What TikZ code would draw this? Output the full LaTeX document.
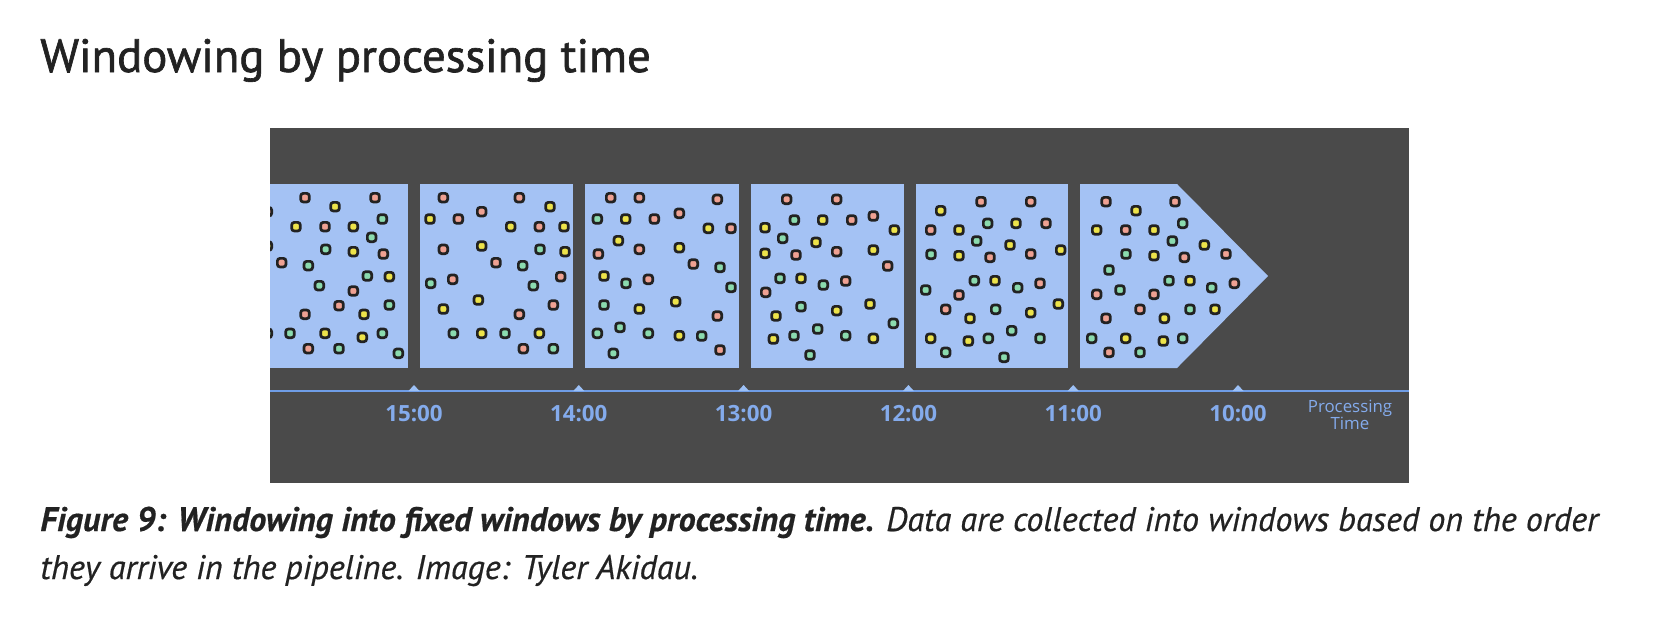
\documentclass[tikz,border=0pt]{standalone}
\usepackage{fontspec}
\setmainfont{PT Sans}
\newfontfamily\titlefont[FakeBold=1.4]{PT Sans}
\newfontfamily\capfont[FakeBold=0.5]{PT Sans}
\newfontfamily\axisfont{Open Sans}

\definecolor{ink}{HTML}{222222}
\definecolor{bgdark}{HTML}{4A4A4A}
\definecolor{winblue}{HTML}{A4C2F4}
\definecolor{axisblue}{HTML}{6F9DE6}
\definecolor{lblblue}{HTML}{84ABEC}
\definecolor{tickblue}{HTML}{9CC0F6}
\definecolor{dotline}{HTML}{222222}
\definecolor{dotpink}{HTML}{EFA192}
\definecolor{dotyellow}{HTML}{EDE34A}
\definecolor{dotgreen}{HTML}{8BDBAE}

\begin{document}
\begin{tikzpicture}[x=0.02cm, y=-0.02cm, every node/.style={inner sep=0pt},
	dot/.style={draw=dotline, line width=1.55pt, rounded corners=1.5pt, minimum size=4.9pt, inner sep=0pt},
	pk/.style={fill=dotpink}, yl/.style={fill=dotyellow}, gn/.style={fill=dotgreen},
	timelbl/.style={font=\axisfont\bfseries\fontsize{12.7}{13}\selectfont, text=lblblue}]
	\useasboundingbox (0,0) rectangle (1672,636);
	\node[anchor=base west, font=\titlefont\fontsize{26.6}{30}\selectfont, text=ink] (title) at (40,72) {Windowing by processing time};
	\fill[bgdark] (270,128) rectangle (1409,483);
	\begin{scope}
		\clip (270,128) rectangle (1409,483);
		\foreach \l/\r in {270/408, 420/573, 585/739, 751/904, 916/1068} {\fill[winblue] (\l,184) rectangle (\r,368);}
		\fill[winblue] (1080,184) -- (1177,184) -- (1268,276) -- (1177,368) -- (1080,368) -- cycle;
		% windows 1-3
		\begin{scope}[shift={(260,120)}, scale=1/3]
			\foreach \x/\y/\c [count=\i] in {22/275/pk, 135/233/pk, 345/233/pk, 225/260/yl, 367/297/gn, 108/320/yl, 195/320/pk, 280/320/yl, 335/352/gn, 22/378/yl, 197/388/gn, 280/395/yl, 370/402/pk, 65/428/pk, 145/437/gn, 322/468/gn, 388/470/yl, 178/497/gn, 280/513/pk, 237/557/pk, 388/555/gn, 135/583/pk, 312/583/yl, 22/640/gn, 90/640/gn, 195/640/yl, 307/652/yl, 367/640/gn, 145/686/pk, 237/686/gn, 415/700/gn,
				550/233/pk, 778/233/pk, 870/260/yl, 665/275/pk, 510/297/yl, 595/297/pk, 752/320/yl, 838/320/pk, 912/320/yl, 550/388/pk, 665/378/yl, 840/388/gn, 915/395/yl, 708/428/pk, 788/437/gn, 902/470/pk, 512/490/gn, 578/478/pk, 820/497/gn, 655/540/yl, 550/567/yl, 880/555/pk, 778/583/pk, 580/640/gn, 665/640/yl, 735/640/gn, 838/640/yl, 790/686/pk, 880/686/gn,
				1052/233/pk, 1138/233/pk, 1372/238/pk, 1258/280/pk, 1012/297/gn, 1097/297/yl, 1183/297/pk, 1345/325/yl, 1413/325/pk, 1075/362/yl, 1015/402/pk, 1138/388/pk, 1258/383/yl, 1300/432/pk, 1380/442/gn, 1032/468/yl, 1098/490/gn, 1165/478/pk, 1413/502/gn, 1247/545/yl, 1032/555/gn, 1138/567/yl, 1372/588/pk, 1080/622/gn, 1012/640/gn, 1165/640/gn, 1258/647/yl, 1325/648/gn, 1060/700/gn, 1380/690/pk}
			{\node[dot, \c] (a\i) at (\x,\y) {};}
		\end{scope}
		% windows 4-6
		\begin{scope}[shift={(740,120)}, scale=1/3]
			\foreach \x/\y/\c [count=\i] in {140/238/pk, 290/238/pk, 163/300/gn, 248/300/yl, 335/300/pk, 400/288/pk, 75/323/yl, 463/330/yl, 128/355/gn, 228/367/yl, 75/400/yl, 168/405/pk, 290/395/pk, 400/390/yl, 443/438/pk, 120/475/gn, 183/475/yl, 250/495/gn, 317/483/pk, 77/517/pk, 183/560/gn, 290/572/yl, 390/552/yl, 108/588/yl, 460/610/gn, 233/627/gn, 100/657/yl, 162/647/gn, 317/647/gn, 400/655/yl, 210/705/gn,
				723/245/pk, 872/245/pk, 602/272/yl, 743/310/gn, 828/310/yl, 918/310/pk, 572/330/pk, 657/330/yl, 710/363/gn, 810/375/yl, 573/403/gn, 657/407/yl, 750/412/pk, 872/402/pk, 962/390/yl, 703/482/gn, 765/482/yl, 833/503/gn, 900/490/pk, 557/510/gn, 657/525/pk, 955/552/yl, 617/568/pk, 767/568/gn, 872/578/yl, 690/595/yl, 815/632/gn, 572/655/yl, 685/663/yl, 745/655/gn, 900/655/gn, 617/697/gn, 792/712/gn,
				1098/245/pk, 1305/245/pk, 1188/272/yl, 1328/310/gn, 1070/330/yl, 1157/330/pk, 1242/330/yl, 1297/363/gn, 1393/375/yl, 1158/402/gn, 1242/407/yl, 1333/412/pk, 1458/402/pk, 1107/450/gn, 1287/482/gn, 1350/482/yl, 1415/503/gn, 1483/490/pk, 1070/523/pk, 1140/510/gn, 1242/523/pk, 1200/568/pk, 1350/568/gn, 1425/568/yl, 1098/595/pk, 1273/595/yl, 1055/655/gn, 1157/655/yl, 1270/663/yl, 1328/655/gn, 1107/697/pk, 1200/697/gn}
			{\node[dot, \c] (b\i) at (\x,\y) {};}
		\end{scope}
	\end{scope}
	% time axis
	\draw[axisblue, line width=1pt] (270,391) -- (1409,391);
	\foreach \t [count=\i] in {15,14,13,12,11,10} {
		\pgfmathsetmacro\tx{414+164.8*(\i-1)}
		\fill[tickblue] (\tx-5.5,391) -- (\tx,385) -- (\tx+5.5,391) -- cycle;
		\node[timelbl] (t\t) at (\tx,414) {\t:00};
	}
	\node[align=center, text=lblblue, font=\axisfont\fontsize{9.6}{9.8}\selectfont] (ptime) at (1350,415) {Processing\\Time};
	\node[anchor=base west, font=\capfont\itshape\fontsize{19.4}{27}\selectfont, text=ink] (cap1) at (40,531) {\textbf{Figure 9: Windowing into fixed windows by processing time.} Data are collected into windows based on the order};
	\node[anchor=base west, font=\capfont\itshape\fontsize{19.4}{27}\selectfont, text=ink] (cap2) at (40,579) {they arrive in the pipeline. Image: Tyler Akidau.};
\end{tikzpicture}
\end{document}
